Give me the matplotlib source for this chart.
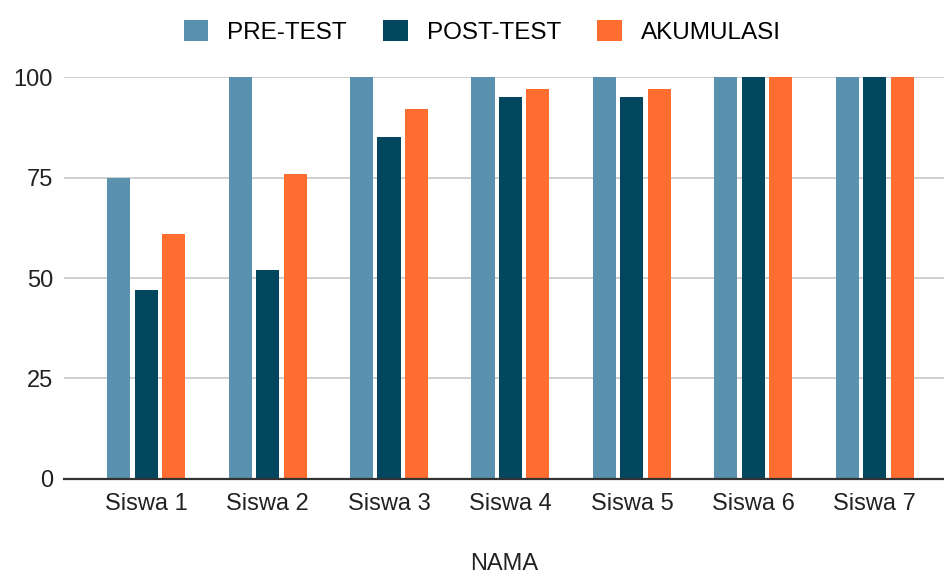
import numpy as np
import matplotlib.pyplot as plt

names = ["Siswa 1", "Siswa 2", "Siswa 3", "Siswa 4", "Siswa 5", "Siswa 6", "Siswa 7"]
pre_test = [75, 100, 100, 100, 100, 100, 100]
post_test = [47, 52, 85, 95, 95, 100, 100]
akumulasi = [61, 76, 92, 97, 97, 100, 100]

series = [("PRE-TEST", pre_test, "#5a91ae"),
          ("POST-TEST", post_test, "#03475f"),
          ("AKUMULASI", akumulasi, "#ff6d31")]

plt.rcParams["font.family"] = ["Liberation Sans", "DejaVu Sans"]

fig = plt.figure(figsize=(9.44, 5.75), dpi=100)
ax = fig.add_axes([0.068, 0.167, 0.932, 0.699])

x = np.arange(len(names))
pitch, width = 0.226, 0.19
for i, (label, vals, color) in enumerate(series):
    ax.bar(x + (i - 1) * pitch, vals, width, color=color, label=label, zorder=3)

ax.set_ylim(0, 100)
ax.set_xlim(-0.675, 6.57)
ax.set_yticks([0, 25, 50, 75, 100])
ax.set_xticks(x)
ax.set_xticklabels(names)
ax.tick_params(axis="both", length=0, labelsize=17, colors="#222222")
ax.tick_params(axis="x", pad=10)
ax.tick_params(axis="y", pad=8)
ax.grid(axis="y", color="#cccccc", lw=1.3, zorder=0)
for s in ["top", "right", "left"]:
    ax.spines[s].set_visible(False)
ax.spines["bottom"].set_color("#333333")
ax.spines["bottom"].set_linewidth(1.6)
ax.spines["bottom"].set_zorder(4)

fig.text(0.534, 0.02, "NAMA", fontsize=17, color="#222222", ha="center", va="center")

fig.legend(loc="center", bbox_to_anchor=(0.511, 0.945), ncol=3, frameon=False,
           fontsize=17.5, handlelength=1.0, handleheight=1.0, columnspacing=1.5,
           handletextpad=0.78)

fig.savefig("out.png", dpi=100)
